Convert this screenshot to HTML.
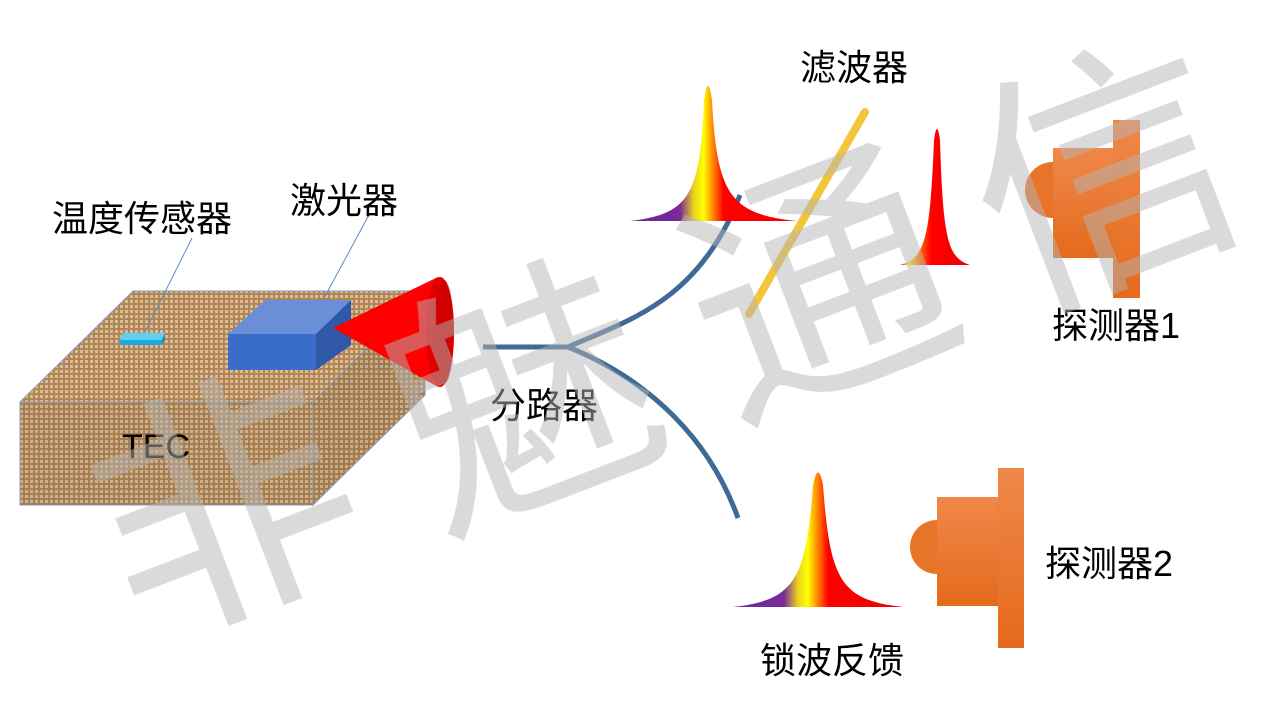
<!DOCTYPE html>
<html><head><meta charset="utf-8"><style>
html,body{margin:0;padding:0;background:#fff;}
svg{display:block;}
text{font-family:"Liberation Sans","Noto Sans CJK SC",sans-serif;fill:#000;}
</style></head><body>
<svg width="1280" height="720" viewBox="0 0 1280 720" xmlns="http://www.w3.org/2000/svg">
<defs>
<pattern id="burlap" width="5" height="5" patternUnits="userSpaceOnUse">
<rect width="5" height="5" fill="#b08558"/>
<rect x="0" y="0" width="3" height="3" fill="#dcbc92"/>
</pattern>
<linearGradient id="spec" x1="0" x2="1" y1="0" y2="0">
<stop offset="0" stop-color="#6a2a9a"/>
<stop offset="0.3" stop-color="#7a2a9a"/>
<stop offset="0.38" stop-color="#e8d020"/>
<stop offset="0.44" stop-color="#ffff00"/>
<stop offset="0.5" stop-color="#ff8000"/>
<stop offset="0.56" stop-color="#ff0000"/>
<stop offset="1" stop-color="#ee0000"/>
</linearGradient>
<linearGradient id="spec2" x1="0" x2="1">
<stop offset="0" stop-color="#6a2a9a"/>
<stop offset="0.12" stop-color="#ffff00"/>
<stop offset="0.3" stop-color="#ff6000"/>
<stop offset="0.45" stop-color="#ff0000"/>
<stop offset="1" stop-color="#ee0000"/>
</linearGradient>
<linearGradient id="org" x1="0" x2="0" y1="0" y2="1">
<stop offset="0" stop-color="#f0884a"/>
<stop offset="1" stop-color="#e46a1c"/>
</linearGradient>
</defs>

<!-- TEC box -->
<polygon points="20,402 133,291 425,291 313,402" fill="url(#burlap)" stroke="#8a9ab0" stroke-width="1"/>
<rect x="20" y="402" width="293" height="103" fill="url(#burlap)" stroke="#8a9ab0"/>
<rect x="20" y="402" width="293" height="103" fill="#000" opacity="0.05"/>
<polygon points="313,402 425,291 425,395 313,505" fill="url(#burlap)" stroke="#8a9ab0"/>
<polygon points="313,402 425,291 425,395 313,505" fill="#000" opacity="0.08"/>
<text x="122" y="458" font-size="34">TEC</text>

<!-- leader lines -->
<line x1="192" y1="238" x2="145" y2="332" stroke="#5b8cc8" stroke-width="1"/>
<line x1="370" y1="213" x2="323" y2="300" stroke="#5b8cc8" stroke-width="1"/>

<!-- sensor -->
<polygon points="120,340 123,333 165,333 162,340" fill="#5cd0f0"/>
<rect x="120" y="340" width="42" height="5" fill="#1aa8e0"/>
<polygon points="162,340 165,333 165,338 162,345" fill="#0c8cc0"/>

<!-- laser block -->
<polygon points="228,334 265,300 351,300 316,334" fill="#6a8ed8"/>
<rect x="228" y="334" width="88" height="36" fill="#3a6ccc"/>
<polygon points="316,334 351,300 351,345 316,370" fill="#2f58a8"/>

<!-- red cone -->
<polygon points="333,328 438,277 438,387" fill="#ff0000"/>
<ellipse cx="440" cy="332" rx="14" ry="55" fill="#e00000"/>
<ellipse cx="444" cy="332" rx="10" ry="52" fill="#c80000" opacity="0.6"/>

<!-- fiber -->
<path d="M483,347 L568,347 C630,320 700,300 740,195" fill="none" stroke="#3d6a96" stroke-width="5"/>
<path d="M568,347 C650,380 710,440 738,518" fill="none" stroke="#3d6a96" stroke-width="5"/>

<!-- peaks -->
<path d="M630,221 C690,214 700,195 704,100 Q708,72 712,100 C717,195 730,214 797,221 Z" fill="url(#spec)"/>
<path d="M900,265 C925,258 930,240 934,140 Q937,118 940,140 C943,240 948,258 970,265 Z" fill="url(#spec2)"/>
<path d="M733,607 C795,600 806,580 813,485 Q818,460 823,485 C830,580 840,600 903,607 Z" fill="url(#spec)"/>

<!-- filter -->
<line x1="749" y1="314" x2="865" y2="112" stroke="#f2c230" stroke-width="8" stroke-linecap="round" opacity="0.95"/>

<!-- detector 1 -->
<path d="M1053,162 A28,28 0 0 0 1053,218 Z" fill="#e8742a"/>
<rect x="1053" y="148" width="60" height="110" fill="url(#org)"/>
<rect x="1113" y="120" width="27" height="178" fill="url(#org)"/>

<!-- detector 2 -->
<path d="M937,520 A27,27 0 0 0 937,574 Z" fill="#e8742a"/>
<rect x="937" y="497" width="61" height="109" fill="url(#org)"/>
<rect x="998" y="468" width="26" height="180" fill="url(#org)"/>

<!-- labels -->
<text x="52" y="231" font-size="36">温度传感器</text>
<text x="290" y="213" font-size="36">激光器</text>
<text x="800" y="80" font-size="36">滤波器</text>
<text x="1052" y="338" font-size="36">探测器1</text>
<text x="490" y="418" font-size="36">分路器</text>
<text x="1045" y="576" font-size="36">探测器2</text>
<text x="760" y="673" font-size="36">锁波反馈</text>

<!-- watermark -->
<g opacity="0.5">
<text x="0" y="0" font-size="260" text-anchor="middle" dominant-baseline="central" style="fill:#b5b5b5" transform="translate(225,510) rotate(-21)">非</text>
<text x="0" y="0" font-size="260" text-anchor="middle" dominant-baseline="central" style="fill:#b5b5b5" transform="translate(525,400) rotate(-21)">魅</text>
<text x="0" y="0" font-size="260" text-anchor="middle" dominant-baseline="central" style="fill:#b5b5b5" transform="translate(820,290) rotate(-21)">通</text>
<text x="0" y="0" font-size="260" text-anchor="middle" dominant-baseline="central" style="fill:#b5b5b5" transform="translate(1105,180) rotate(-21)">信</text>
</g>
</svg>
</body></html>
